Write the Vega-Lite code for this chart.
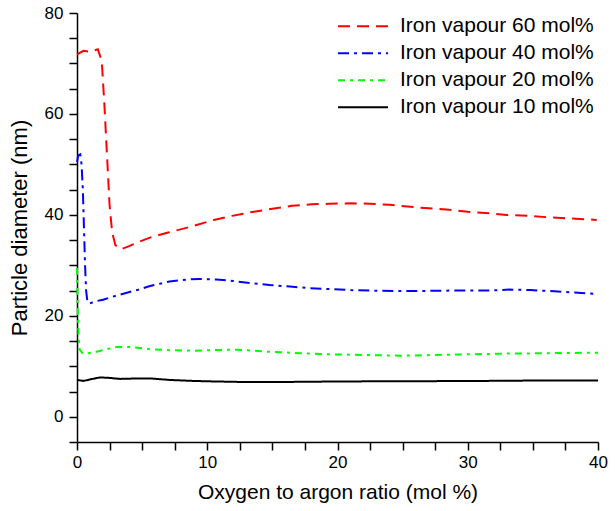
{
  "$schema": "https://vega.github.io/schema/vega-lite/v6.json",
  "width": 521,
  "height": 429,
  "autosize": {"type": "none"},
  "padding": {"left": 77, "top": 13, "right": 17, "bottom": 69},
  "background": "white",
  "config": {
    "view": {"stroke": null},
    "font": "Liberation Sans",
    "axis": {
      "grid": false,
      "domainColor": "black",
      "domainWidth": 1.5,
      "tickColor": "black",
      "tickWidth": 1.5,
      "labelColor": "black",
      "titleColor": "black",
      "labelFont": "Liberation Sans",
      "titleFont": "Liberation Sans",
      "labelFontSize": 17,
      "titleFontSize": 21,
      "titleFontWeight": "normal",
      "labelOverlap": false
    },
    "legend": {
      "labelFont": "Liberation Sans",
      "labelFontSize": 21,
      "labelColor": "black",
      "labelLimit": 0
    }
  },
  "data": {
    "values": [
      {"s": "Iron vapour 60 mol%", "x": 0, "y": 71.8},
      {"s": "Iron vapour 60 mol%", "x": 0.5, "y": 72.5},
      {"s": "Iron vapour 60 mol%", "x": 1.0, "y": 72.3},
      {"s": "Iron vapour 60 mol%", "x": 1.6, "y": 72.8},
      {"s": "Iron vapour 60 mol%", "x": 1.9, "y": 70.5},
      {"s": "Iron vapour 60 mol%", "x": 2.1, "y": 62},
      {"s": "Iron vapour 60 mol%", "x": 2.3, "y": 52},
      {"s": "Iron vapour 60 mol%", "x": 2.5, "y": 42},
      {"s": "Iron vapour 60 mol%", "x": 2.7, "y": 36.5},
      {"s": "Iron vapour 60 mol%", "x": 2.95, "y": 34},
      {"s": "Iron vapour 60 mol%", "x": 3.4, "y": 33.2},
      {"s": "Iron vapour 60 mol%", "x": 4.0, "y": 33.8},
      {"s": "Iron vapour 60 mol%", "x": 4.6, "y": 34.5},
      {"s": "Iron vapour 60 mol%", "x": 5.6, "y": 35.5},
      {"s": "Iron vapour 60 mol%", "x": 7, "y": 36.5},
      {"s": "Iron vapour 60 mol%", "x": 8.8, "y": 37.7},
      {"s": "Iron vapour 60 mol%", "x": 10.5, "y": 39},
      {"s": "Iron vapour 60 mol%", "x": 11.9, "y": 39.8},
      {"s": "Iron vapour 60 mol%", "x": 13.3, "y": 40.5},
      {"s": "Iron vapour 60 mol%", "x": 15, "y": 41.2},
      {"s": "Iron vapour 60 mol%", "x": 16.5, "y": 41.8},
      {"s": "Iron vapour 60 mol%", "x": 18, "y": 42.1},
      {"s": "Iron vapour 60 mol%", "x": 19.4, "y": 42.2},
      {"s": "Iron vapour 60 mol%", "x": 21, "y": 42.3},
      {"s": "Iron vapour 60 mol%", "x": 22.5, "y": 42.2},
      {"s": "Iron vapour 60 mol%", "x": 24, "y": 42},
      {"s": "Iron vapour 60 mol%", "x": 25.6, "y": 41.6},
      {"s": "Iron vapour 60 mol%", "x": 27, "y": 41.3},
      {"s": "Iron vapour 60 mol%", "x": 28.6, "y": 41.0},
      {"s": "Iron vapour 60 mol%", "x": 30, "y": 40.6},
      {"s": "Iron vapour 60 mol%", "x": 31.7, "y": 40.3},
      {"s": "Iron vapour 60 mol%", "x": 33, "y": 40.0},
      {"s": "Iron vapour 60 mol%", "x": 34.8, "y": 39.8},
      {"s": "Iron vapour 60 mol%", "x": 36.3, "y": 39.5},
      {"s": "Iron vapour 60 mol%", "x": 37.8, "y": 39.3},
      {"s": "Iron vapour 60 mol%", "x": 39.9, "y": 39.0},

      {"s": "Iron vapour 40 mol%", "x": 0, "y": 50.5},
      {"s": "Iron vapour 40 mol%", "x": 0.1, "y": 51.8},
      {"s": "Iron vapour 40 mol%", "x": 0.25, "y": 52},
      {"s": "Iron vapour 40 mol%", "x": 0.35, "y": 50},
      {"s": "Iron vapour 40 mol%", "x": 0.45, "y": 45},
      {"s": "Iron vapour 40 mol%", "x": 0.55, "y": 36},
      {"s": "Iron vapour 40 mol%", "x": 0.62, "y": 30},
      {"s": "Iron vapour 40 mol%", "x": 0.7, "y": 25},
      {"s": "Iron vapour 40 mol%", "x": 0.8, "y": 22.8},
      {"s": "Iron vapour 40 mol%", "x": 0.95, "y": 22.4},
      {"s": "Iron vapour 40 mol%", "x": 1.3, "y": 22.8},
      {"s": "Iron vapour 40 mol%", "x": 2.0, "y": 23.2},
      {"s": "Iron vapour 40 mol%", "x": 3.0, "y": 24.0},
      {"s": "Iron vapour 40 mol%", "x": 4.6, "y": 25.1},
      {"s": "Iron vapour 40 mol%", "x": 5.6, "y": 25.9},
      {"s": "Iron vapour 40 mol%", "x": 7.1, "y": 26.8},
      {"s": "Iron vapour 40 mol%", "x": 8.5, "y": 27.2},
      {"s": "Iron vapour 40 mol%", "x": 9.4, "y": 27.3},
      {"s": "Iron vapour 40 mol%", "x": 10.7, "y": 27.2},
      {"s": "Iron vapour 40 mol%", "x": 12, "y": 26.9},
      {"s": "Iron vapour 40 mol%", "x": 13.3, "y": 26.5},
      {"s": "Iron vapour 40 mol%", "x": 14.8, "y": 26.1},
      {"s": "Iron vapour 40 mol%", "x": 16.35, "y": 25.8},
      {"s": "Iron vapour 40 mol%", "x": 17.8, "y": 25.5},
      {"s": "Iron vapour 40 mol%", "x": 19.4, "y": 25.3},
      {"s": "Iron vapour 40 mol%", "x": 21, "y": 25.1},
      {"s": "Iron vapour 40 mol%", "x": 22.5, "y": 25.0},
      {"s": "Iron vapour 40 mol%", "x": 25.6, "y": 24.9},
      {"s": "Iron vapour 40 mol%", "x": 28.6, "y": 25.0},
      {"s": "Iron vapour 40 mol%", "x": 31.7, "y": 25.0},
      {"s": "Iron vapour 40 mol%", "x": 33.2, "y": 25.2},
      {"s": "Iron vapour 40 mol%", "x": 34.8, "y": 25.1},
      {"s": "Iron vapour 40 mol%", "x": 36.3, "y": 24.9},
      {"s": "Iron vapour 40 mol%", "x": 38.2, "y": 24.6},
      {"s": "Iron vapour 40 mol%", "x": 40, "y": 24.3},

      {"s": "Iron vapour 20 mol%", "x": 0, "y": 29.5},
      {"s": "Iron vapour 20 mol%", "x": 0.05, "y": 22},
      {"s": "Iron vapour 20 mol%", "x": 0.12, "y": 16},
      {"s": "Iron vapour 20 mol%", "x": 0.2, "y": 13.3},
      {"s": "Iron vapour 20 mol%", "x": 0.45, "y": 12.5},
      {"s": "Iron vapour 20 mol%", "x": 0.9, "y": 12.6},
      {"s": "Iron vapour 20 mol%", "x": 1.5, "y": 12.9},
      {"s": "Iron vapour 20 mol%", "x": 2.3, "y": 13.4},
      {"s": "Iron vapour 20 mol%", "x": 3.0, "y": 13.8},
      {"s": "Iron vapour 20 mol%", "x": 4.1, "y": 13.8},
      {"s": "Iron vapour 20 mol%", "x": 5.6, "y": 13.4},
      {"s": "Iron vapour 20 mol%", "x": 7.1, "y": 13.2},
      {"s": "Iron vapour 20 mol%", "x": 9, "y": 13.1},
      {"s": "Iron vapour 20 mol%", "x": 10.5, "y": 13.2},
      {"s": "Iron vapour 20 mol%", "x": 12.3, "y": 13.3},
      {"s": "Iron vapour 20 mol%", "x": 13.5, "y": 13.1},
      {"s": "Iron vapour 20 mol%", "x": 14.6, "y": 12.9},
      {"s": "Iron vapour 20 mol%", "x": 17.1, "y": 12.6},
      {"s": "Iron vapour 20 mol%", "x": 19, "y": 12.4},
      {"s": "Iron vapour 20 mol%", "x": 21, "y": 12.3},
      {"s": "Iron vapour 20 mol%", "x": 24.8, "y": 12.1},
      {"s": "Iron vapour 20 mol%", "x": 26.7, "y": 12.2},
      {"s": "Iron vapour 20 mol%", "x": 28.6, "y": 12.3},
      {"s": "Iron vapour 20 mol%", "x": 30.5, "y": 12.4},
      {"s": "Iron vapour 20 mol%", "x": 32.5, "y": 12.5},
      {"s": "Iron vapour 20 mol%", "x": 36.3, "y": 12.6},
      {"s": "Iron vapour 20 mol%", "x": 40, "y": 12.7},

      {"s": "Iron vapour 10 mol%", "x": 0, "y": 7.3},
      {"s": "Iron vapour 10 mol%", "x": 0.5, "y": 7.1},
      {"s": "Iron vapour 10 mol%", "x": 1.0, "y": 7.4},
      {"s": "Iron vapour 10 mol%", "x": 1.77, "y": 7.8},
      {"s": "Iron vapour 10 mol%", "x": 2.5, "y": 7.7},
      {"s": "Iron vapour 10 mol%", "x": 3.3, "y": 7.5},
      {"s": "Iron vapour 10 mol%", "x": 4.8, "y": 7.6},
      {"s": "Iron vapour 10 mol%", "x": 5.6, "y": 7.6},
      {"s": "Iron vapour 10 mol%", "x": 7.1, "y": 7.3},
      {"s": "Iron vapour 10 mol%", "x": 8.9, "y": 7.1},
      {"s": "Iron vapour 10 mol%", "x": 10.5, "y": 7.0},
      {"s": "Iron vapour 10 mol%", "x": 12.5, "y": 6.9},
      {"s": "Iron vapour 10 mol%", "x": 16.1, "y": 6.9},
      {"s": "Iron vapour 10 mol%", "x": 20.4, "y": 7.0},
      {"s": "Iron vapour 10 mol%", "x": 26.6, "y": 7.05},
      {"s": "Iron vapour 10 mol%", "x": 31, "y": 7.1},
      {"s": "Iron vapour 10 mol%", "x": 36.3, "y": 7.2},
      {"s": "Iron vapour 10 mol%", "x": 40, "y": 7.2}
    ]
  },
  "mark": {"type": "line", "strokeWidth": 2, "interpolate": "linear"},
  "encoding": {
    "x": {
      "field": "x",
      "type": "quantitative",
      "title": "Oxygen to argon ratio (mol %)",
      "scale": {"domain": [0, 40], "nice": false, "zero": false},
      "axis": {
        "values": [0, 2.5, 5, 7.5, 10, 12.5, 15, 17.5, 20, 22.5, 25, 27.5, 30, 32.5, 35, 37.5, 40],
        "labelExpr": "datum.value % 10 === 0 ? datum.label : ''",
        "tickSize": 8,
        "labelPadding": 4,
        "titlePadding": 11,
        "labelFlush": false,
        "encode": {"ticks": {"update": {"y2": {"signal": "datum.value % 10 === 0 ? 8 : 4"}}}}
      }
    },
    "y": {
      "field": "y",
      "type": "quantitative",
      "title": "Particle diameter (nm)",
      "scale": {"domain": [-5, 80], "nice": false, "zero": false},
      "axis": {
        "values": [-5, 0, 5, 10, 15, 20, 25, 30, 35, 40, 45, 50, 55, 60, 65, 70, 75, 80],
        "labelExpr": "datum.value % 20 === 0 ? datum.label : ''",
        "tickSize": 8,
        "labelPadding": 6,
        "titlePadding": 13,
        "titleFontSize": 22,
        "labelFlush": false,
        "encode": {"ticks": {"update": {"x2": {"signal": "datum.value % 20 === 0 ? -8 : -4"}}}}
      }
    },
    "color": {
      "field": "s",
      "type": "nominal",
      "scale": {
        "domain": ["Iron vapour 60 mol%", "Iron vapour 40 mol%", "Iron vapour 20 mol%", "Iron vapour 10 mol%"],
        "range": ["#ff0000", "#0000ff", "#00ff00", "#000000"]
      },
      "legend": {
        "title": null,
        "orient": "none",
        "legendX": 260,
        "legendY": 0,
        "padding": 0,
        "symbolType": "stroke",
        "symbolSize": 2500,
        "symbolStrokeWidth": 2,
        "labelOffset": 11,
        "clipHeight": 26.5,
        "rowPadding": 0
      }
    },
    "strokeDash": {
      "field": "s",
      "type": "nominal",
      "scale": {
        "domain": ["Iron vapour 60 mol%", "Iron vapour 40 mol%", "Iron vapour 20 mol%", "Iron vapour 10 mol%"],
        "range": [[12, 7], [11, 5, 3, 5], [7, 5, 3, 5], [1, 0]]
      },
      "legend": {
        "title": null,
        "orient": "none",
        "legendX": 260,
        "legendY": 0,
        "padding": 0,
        "symbolType": "stroke",
        "symbolSize": 2500,
        "symbolStrokeWidth": 2,
        "labelOffset": 11,
        "clipHeight": 26.5,
        "rowPadding": 0
      }
    }
  }
}
